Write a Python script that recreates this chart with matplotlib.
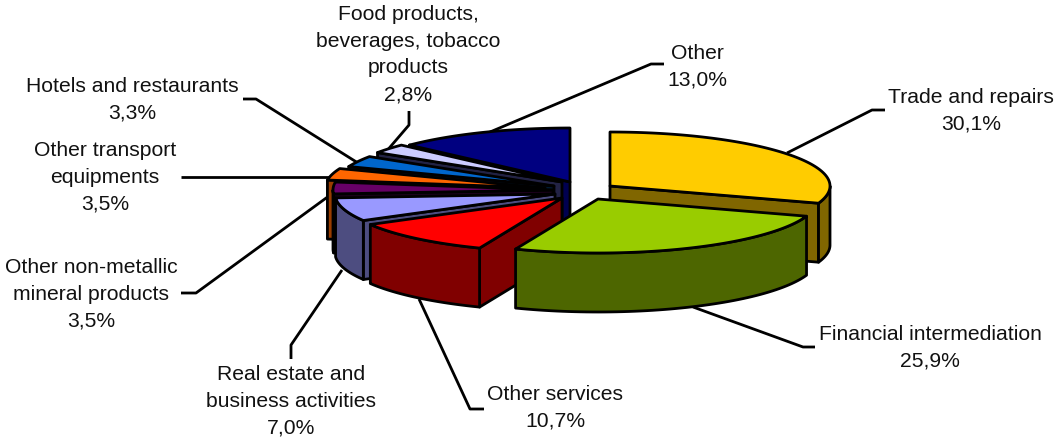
#!/usr/bin/env python
import numpy as np
import matplotlib
matplotlib.use('Agg')
import matplotlib.pyplot as plt
from matplotlib.patches import Polygon

plt.rcParams['font.family'] = ['Liberation Sans', 'DejaVu Sans']

# clockwise from 12 o'clock
labels = ['Trade and repairs', 'Financial intermediation', 'Other services',
          'Real estate and\nbusiness activities',
          'Other non-metallic\nmineral products', 'Other transport\nequipments',
          'Hotels and restaurants', 'Food products,\nbeverages, tobacco\nproducts',
          'Other']
values = [30.1, 25.9, 10.7, 7.0, 3.5, 3.5, 3.3, 2.8, 13.0]

top_colors = ['#FFCC00', '#99CC00', '#FF0000', '#9999FF', '#660066',
              '#FF6600', '#0066CC', '#CCCCFF', '#000080']
wall_colors = ['#806600', '#4D6600', '#800000', '#4D4D80', '#1A001A',
               '#993D00', '#001A33', '#222244', '#000050']

# where each exploded slice ends up, in pixels
apex_x = [610, 598, 562, 555, 553, 545, 554, 562, 570]
apex_y = [186, 199, 198, 194, 190, 188, 186, 182, 182]
rx = 220
ry = 54
depth = 59
lw = 2.0

# back to front
draw_order = [8, 7, 6, 5, 4, 3, 2, 0, 1]

# centre x and first baseline of each label
label_x = [971, 930, 555, 291, 91, 105, 132, 408, 697]
label_y = [103, 340, 400, 380, 273, 156, 92, 20, 59]
line_step = 26.7

leaders = [
    ([787, 872, 885], [153, 110, 110]),
    ([693, 803, 815], [307, 347, 347]),
    ([419, 470, 484], [299, 409, 409]),
    ([342, 291, 291], [270, 345, 359]),
    ([333, 196, 181], [193, 293, 293]),
    ([330, 181], [177, 177]),
    ([358, 256, 243], [163, 99, 99]),
    ([385, 409, 409], [153, 125, 111]),
    ([490, 651, 664], [132, 64, 64]),
]

fig = plt.figure(figsize=(10.55, 4.38), dpi=100)
ax = fig.add_axes([0, 0, 1, 1])
ax.set_xlim(0, 1055)
ax.set_ylim(438, 0)
ax.axis('off')


def rim(cx, cy, t):
    t = np.deg2rad(t)
    return cx + rx * np.sin(t), cy - ry * np.cos(t)


def face(xs, ys, color, z):
    ax.add_patch(Polygon(np.column_stack([xs, ys]), closed=True, fc=color, ec='black',
                         lw=lw, joinstyle='round', zorder=z))


edges = np.cumsum([0] + values) / sum(values) * 360

for xs, ys in leaders:
    ax.plot(xs, ys, c='black', lw=lw, zorder=1, solid_capstyle='butt')

for z, i in enumerate(draw_order):
    t0, t1 = edges[i], edges[i + 1]
    cx, cy = apex_x[i], apex_y[i]
    z = 2 + z
    # side cuts, only the ones that face the viewer
    for t, visible in ((t0, np.sin(np.deg2rad(t0)) < -1e-6), (t1, np.sin(np.deg2rad(t1)) > 1e-6)):
        if visible:
            x, y = rim(cx, cy, t)
            face([cx, x, x, cx], [cy, y, y + depth, cy + depth], wall_colors[i], z)
    # outer wall, front half only
    a, b = max(t0, 90), min(t1, 270)
    if b > a:
        t = np.linspace(a, b, 60)
        x, y = rim(cx, cy, t)
        face(np.r_[x, x[::-1]], np.r_[y, y[::-1] + depth], wall_colors[i], z)
    t = np.linspace(t0, t1, 80)
    x, y = rim(cx, cy, t)
    face(np.r_[cx, x], np.r_[cy, y], top_colors[i], z)

# one text per line, matplotlib's line spacing is uneven with descenders
for name, v, x, y in zip(labels, values, label_x, label_y):
    pct = f'{v:.1f}'.replace('.', ',') + '%'
    for n, line in enumerate(name.split('\n') + [pct]):
        ax.text(x, y + n * line_step, line, ha='center', va='baseline', fontsize=15.2,
                color='#111111', zorder=30)

fig.savefig('out.png', dpi=100)
